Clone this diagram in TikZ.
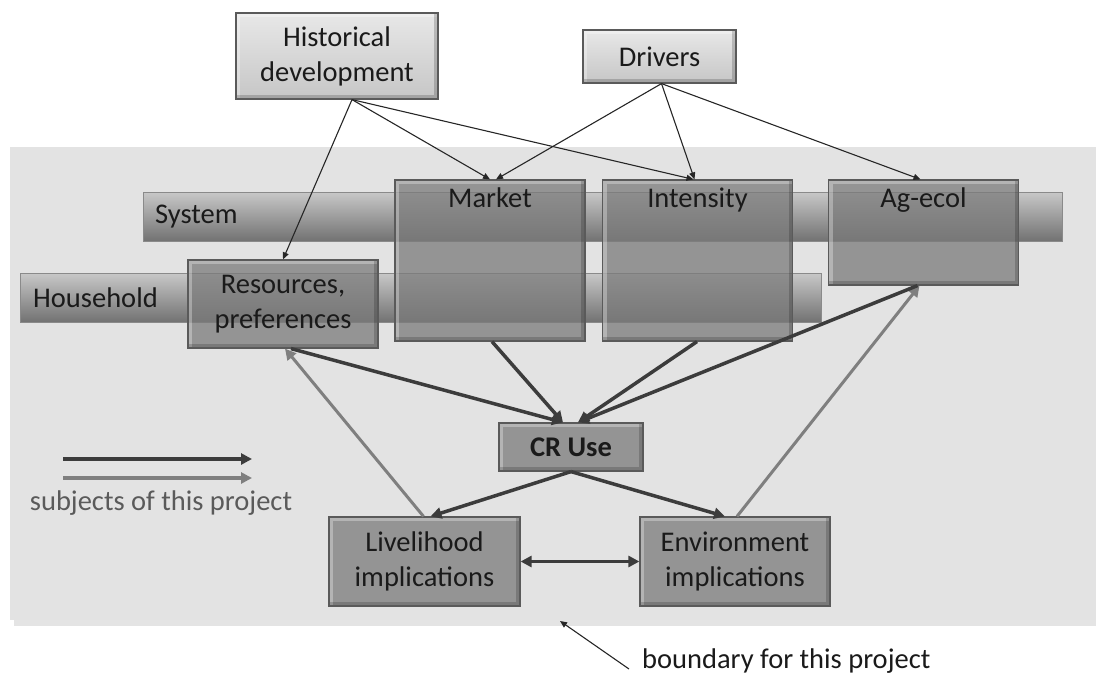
\documentclass[tikz,border=0pt]{standalone}
\usepackage{fontspec}
\setmainfont{Carlito}
\usepackage{tikz}
\usepackage{xcolor}
\usetikzlibrary{arrows.meta}
\definecolor{panelColor}{HTML}{E3E3E3}
\definecolor{shadowColor}{HTML}{D2D2D2}
\definecolor{topBoxLight}{HTML}{E8E8E8}
\definecolor{topBoxDark}{HTML}{C6C6C6}
\definecolor{boxColor}{HTML}{7A7A7A}
\definecolor{boxLineColor}{HTML}{5A5A5A}
\definecolor{barTopColor}{HTML}{C8C8C8}
\definecolor{barBottomColor}{HTML}{727272}
\definecolor{barLineColor}{HTML}{8A8A8A}
\definecolor{thinLinkColor}{HTML}{262626}
\definecolor{darkLinkColor}{HTML}{3C3C3C}
\definecolor{grayLinkColor}{HTML}{7F7F7F}
\definecolor{labelTextColor}{HTML}{1A1A1A}
\definecolor{noteTextColor}{HTML}{5A5A5A}
\def\textHist{Historical\\development}
\def\textRes{Resources,\\preferences}
\def\textLive{Livelihood\\implications}
\def\textEnv{Environment\\implications}

\tikzset{
  boxtext/.style={font=\fontsize{28.5}{35}\selectfont, text=labelTextColor, text opacity=1, align=center},
  bevel/.style={path picture={
    \draw[white, opacity=.3, line width=8pt] (path picture bounding box.south west) --
      (path picture bounding box.north west) -- (path picture bounding box.north east);
    \draw[black, opacity=.18, line width=8pt] (path picture bounding box.north east) --
      (path picture bounding box.south east) -- (path picture bounding box.south west);}},
  topbox/.style={boxtext, bevel, draw=boxLineColor, line width=1.2pt, top color=topBoxLight,
    bottom color=topBoxDark, inner sep=0pt},
  darkbox/.style={boxtext, bevel, draw=boxLineColor, line width=1.2pt, fill=boxColor,
    fill opacity=.75, inner sep=0pt, minimum width=190pt},
  bar/.style={draw=barLineColor, line width=.8pt, top color=barTopColor, bottom color=barBottomColor},
  thinlink/.style={draw=thinLinkColor, line width=1.1pt, -{Triangle[length=7pt,width=6pt]}},
  darklink/.style={draw=darkLinkColor, line width=3.5pt, -{Triangle[length=11pt,width=11pt]}},
  graylink/.style={draw=grayLinkColor, line width=3pt, -{Triangle[length=11pt,width=11pt]}}
}

\begin{document}
\begin{tikzpicture}[x=1pt,y=-1pt]
\useasboundingbox (0,0) rectangle (1096,677);

% project panel
\begin{scope}
\fill[shadowColor, opacity=.6] (14,620) rectangle (1096,626);
\fill[panelColor] (10,147) rectangle (1096,620);
\end{scope}

% level bars
\begin{scope}
\draw[bar] (143,192) rectangle (1062,241);
\draw[bar] (20,273) rectangle (821,322);
\node (system) [boxtext, anchor=west, inner sep=0pt] at (155,217) {System};
\node (household) [boxtext, anchor=west, inner sep=0pt] at (33,298) {Household};
\end{scope}

% boxes
\begin{scope}
\node (hist) [topbox, minimum width=202pt, minimum height=86pt] at (337,56) {\textHist};
\node (drivers) [topbox, minimum width=153pt, minimum height=53pt] at (659.5,56.5) {Drivers};
\node (market) [darkbox, minimum height=161pt,
  label={[boxtext, anchor=north, yshift=-5pt]north:Market}] at (490,260.5) {};
\node (intensity) [darkbox, minimum height=161pt,
  label={[boxtext, anchor=north, yshift=-5pt]north:Intensity}] at (697.5,260.5) {};
\node (agecol) [darkbox, minimum height=105pt,
  label={[boxtext, anchor=north, yshift=-5pt]north:Ag-ecol}] at (923.5,232.5) {};
\node (resources) [darkbox, minimum height=88pt] at (283,304) {\textRes};
\node (cruse) [darkbox, minimum width=144pt, minimum height=48pt, font=\fontsize{28.5}{35}\selectfont\bfseries]
  at (571,447) {CR Use};
\node (livelihood) [darkbox, minimum width=191pt, minimum height=89pt] at (424.5,561.5) {\textLive};
\node (environment) [darkbox, minimum height=89pt] at (735,561.5) {\textEnv};
\end{scope}

% thin links
\begin{scope}
\draw[thinlink] ([xshift=15pt]hist.south) -- (resources.north);
\draw[thinlink] ([xshift=15pt]hist.south) -- (market.north);
\draw[thinlink] ([xshift=15pt]hist.south) -- ([xshift=-4pt]intensity.north);
\draw[thinlink] ([xshift=2pt]drivers.south) -- ([xshift=6pt]market.north);
\draw[thinlink] ([xshift=2pt]drivers.south) -- ([xshift=-3pt]intensity.north);
\draw[thinlink] ([xshift=2pt]drivers.south) -- ([xshift=-3pt]agecol.north);
\end{scope}

% project links
\begin{scope}
\draw[graylink] ([xshift=-1pt]livelihood.north) -- ([xshift=2pt]resources.south);
\draw[graylink] ([xshift=2pt]environment.north) -- ([xshift=-4pt]agecol.south);
\draw[darklink] ([xshift=8pt]resources.south) -- ([xshift=-8pt]cruse.north);
\draw[darklink] ([xshift=2pt]market.south) -- ([xshift=-8pt]cruse.north);
\draw[darklink] ([xshift=-0.5pt]intensity.south) -- ([xshift=7pt]cruse.north);
\draw[darklink] ([xshift=-6pt]agecol.south) -- ([xshift=7pt]cruse.north);
\draw[darklink] (cruse.south) -- ([xshift=6pt]livelihood.north);
\draw[darklink] (cruse.south) -- ([xshift=-10pt]environment.north);
\draw[darklink, {Triangle[length=11pt,width=11pt]}-{Triangle[length=11pt,width=11pt]}]
  (livelihood.east) -- (environment.west);
\end{scope}

% legend
\begin{scope}
\coordinate (darkstart) at (63,459);
\coordinate (darkend) at (252,459);
\coordinate (graystart) at (63,478);
\coordinate (grayend) at (252,478);
\draw[darklink, line width=3.5pt] (darkstart) -- (darkend);
\draw[graylink, line width=3.5pt] (graystart) -- (grayend);
\node (subjects) [boxtext, text=noteTextColor] at (161,503) {subjects of this project};
\end{scope}

% boundary note
\node (boundary) [boxtext, anchor=west, inner sep=0pt] at (642,661) {boundary for this project};
\coordinate (boundtip) at (560,621);
\draw[thinlink] ([shift={(-13pt,-8pt)}]boundary.west) -- (boundtip);

\end{tikzpicture}
\end{document}
